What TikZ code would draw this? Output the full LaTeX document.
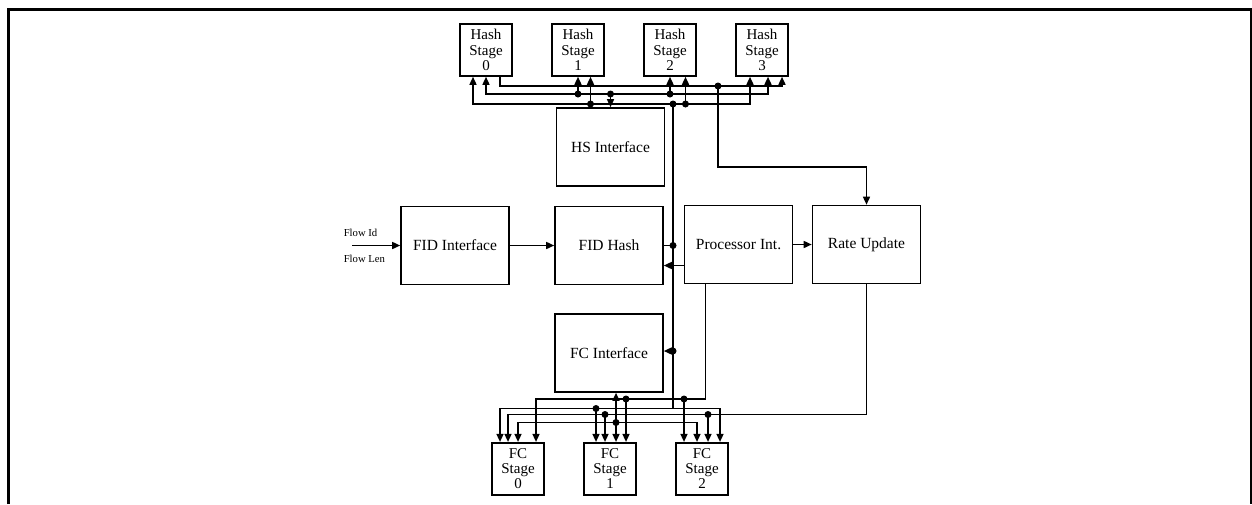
\documentclass[tikz,border=0pt]{standalone}
\usepackage{fontspec}
\setmainfont{Liberation Serif}
\usetikzlibrary{arrows.meta}

\begin{document}
\begin{tikzpicture}[x=1pt,y=-1pt,>={Triangle[length=8pt,width=7pt]},line width=1.5pt,
  blk/.style={draw,line width=1.6pt,minimum width=108pt,minimum height=78pt,inner sep=0pt,font=\fontsize{15.5}{17}\selectfont},
  stg/.style={draw,line width=1.6pt,minimum width=52pt,minimum height=52pt,inner sep=0pt,align=center,font=\fontsize{15}{15.3}\selectfont},
  lbl/.style={anchor=base west,inner sep=0pt,font=\fontsize{10.7}{12}\selectfont}]
\useasboundingbox (0,0) rectangle (1252,504);
\draw[line width=2.2pt] (8.5,504) -- (8.5,9.5) -- (1251,9.5) -- (1251,504);
% stages
\foreach \i/\x in {0/486,1/578,2/670,3/762}{\node[stg] (hs\i) at (\x,50) {Hash\\Stage\\\i};}
\foreach \i/\x in {0/518,1/610,2/702}{\node[stg] (fc\i) at (\x,468.7) {FC\\Stage\\\i};}
% blocks
\node[blk] (hsi) at (610.5,147) {HS Interface};
\node[blk] (fidi) at (455,245.5) {FID Interface};
\node[blk] (fidh) at (609,245.5) {FID Hash};
\node[blk] (proc) at (738.5,244.5) {Processor Int.};
\node[blk] (rate) at (866.5,244.5) {Rate Update};
\node[blk] (fci) at (609,353) {FC Interface};
% input
\coordinate (fin) at (352,245.5);
\draw[->] (fin) -- (fidi.west);
\node[lbl] (fid) at (343,236) {Flow Id};
\node[lbl] (flen) at (343,262.7) {Flow Len};
\draw[->] (fidi) -- (fidh);
\draw[->] (proc) -- (rate);
\draw[->] ([yshift=-21pt]proc.west) -- ([yshift=-21pt]proc.west -| fidh.east);
% bus levels
\coordinate (busA) at (0,86);
\coordinate (busB) at (0,94);
\coordinate (busC) at (0,104);
\coordinate (busP) at (0,399);
\coordinate (busQ) at (0,408.5);
\coordinate (busR) at (0,414.5);
\coordinate (busS) at (0,422.5);
% hash stage buses
\draw[->] ([xshift=14pt]hs0.south) -- ([xshift=14pt]hs0.south |- busA) -| ([xshift=20pt]hs3.south);
\draw[<->] ([xshift=0pt]hs0.south) -- ([xshift=0pt]hs0.south |- busB) -| ([xshift=6pt]hs3.south);
\draw[<->] ([xshift=-13pt]hs0.south) -- ([xshift=-13pt]hs0.south |- busC) -| ([xshift=-12pt]hs3.south);
\foreach \s/\dx/\b in {hs1/0/busB,hs2/0/busB,hs1/12.5/busC,hs2/15.5/busC}{
  \draw[->] ([xshift=\dx pt]\s.south |- \b) -- ([xshift=\dx pt]\s.south);
  \fill ([xshift=\dx pt]\s.south |- \b) circle (3.5pt);}
\draw[->] (hsi.north |- busB) -- (hsi.north);
\fill (hsi.north |- busB) circle (3.5pt);
% rate update feed
\coordinate (tapR) at (718,86);
\fill (tapR) circle (3.5pt);
\draw[->] (tapR) -- ++(0,81) -| (rate.north);
% spine
\coordinate (spine) at (673,104);
\draw (spine) -- (spine |- busQ);
\fill (spine) circle (3.5pt);
\draw (fidh.east) -- (fidh.east -| spine);
\fill (fidh.east -| spine) circle (3.5pt);
\draw[->] ([yshift=2pt]fci.east -| spine) -- ([yshift=2pt]fci.east);
\fill ([yshift=2pt]fci.east -| spine) circle (3.5pt);
% fc stage buses
\draw[->] ([xshift=-33pt]proc.south) -- ([xshift=-33pt]proc.south |- busP) -| ([xshift=18pt]fc0.north);
\draw[<->] ([xshift=-18pt]fc0.north) -- ([xshift=-18pt]fc0.north |- busQ) -| ([xshift=18pt]fc2.north);
\draw[->] (rate.south) -- (rate.south |- busR) -| ([xshift=-10pt]fc0.north);
\draw[<->] ([xshift=0pt]fc0.north) -- ([xshift=0pt]fc0.north |- busS) -| ([xshift=-5pt]fc2.north);
\foreach \s/\dx/\b in {fc2/-18/busP,fc1/16/busP,fc1/-14/busQ,fc1/-5/busR,fc2/6/busR}{
  \draw[->] ([xshift=\dx pt]\s.north |- \b) -- ([xshift=\dx pt]\s.north);
  \fill ([xshift=\dx pt]\s.north |- \b) circle (3.5pt);}
\draw[<->] ([xshift=6pt]fc1.north |- fci.south) -- ([xshift=6pt]fc1.north);
\fill ([xshift=6pt]fc1.north |- busS) circle (3.5pt);
\end{tikzpicture}
\end{document}
